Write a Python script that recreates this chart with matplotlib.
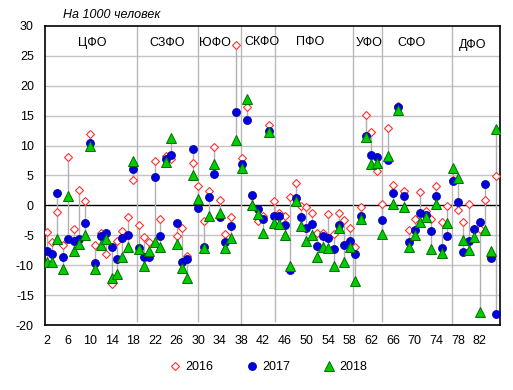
import matplotlib

matplotlib.use("Agg")
import matplotlib.pyplot as plt
import numpy as np

plt.rcParams['font.family'] = ['Liberation Sans', 'DejaVu Sans']
plt.rcParams['axes.unicode_minus'] = False

# region number on the x axis
regions = list(range(2, 86))

# values per 1000 people
y2016 = [-4.5, -6.2, -1.1, -6.6, 8.1, -4.0, 2.6, 0.8, 12.0, -6.6,
         -4.6, -8.1, -13.2, -6.0, -4.2, -1.9, 4.3, -3.2, -5.3, -6.2,
         7.5, -2.3, 8.2, 7.8, -5.1, -3.7, -8.4, 7.1, 3.3, -2.6,
         2.4, 9.8, 0.9, -4.7, -1.9, 26.8, 7.9, 16.4, 1.6, -2.6,
         -1.8, 13.4, 0.8, -1.2, -1.7, 1.4, 3.7, -0.1, -0.3, -1.2,
         -4.6, -4.6, -1.5, -4.8, -1.2, -2.4, -3.8, -6.9, -0.3, 15.2,
         12.2, 5.7, 0.3, 13.0, 3.4, 16.7, 2.4, -4.1, -2.3, 2.2,
         -0.9, -2.3, 3.3, -2.7, -0.1, 4.3, -0.8, -2.8, 0.3, -3.9,
         -3.9, 0.9, -8.6, 4.9]
y2017 = [-7.6, -8.1, 2.1, -8.6, -5.6, -5.9, -5.7, -2.9, 10.5, -9.6,
         -5.2, -4.6, -7.0, -9.0, -5.5, -4.9, 6.1, -7.2, -8.7, -8.6,
         4.8, -5.1, 7.7, 8.4, -3.0, -9.5, -9.0, 9.5, -0.5, -7.0,
         1.4, 5.2, -1.9, -6.2, -3.4, 15.7, 7.0, 14.2, 1.8, -0.6,
         -2.3, 12.4, -1.8, -1.8, -3.3, -10.8, 1.3, -1.9, -3.8, -3.1,
         -6.8, -5.1, -5.5, -7.3, -3.3, -6.6, -5.9, -8.1, -1.7, 11.6,
         8.5, 8.1, -2.4, 7.6, 2.0, 16.4, 1.6, -6.1, -4.1, -1.3,
         -1.6, -4.3, 1.6, -7.2, -5.2, 4.1, 0.5, -7.8, -6.0, -3.9,
         -2.8, 3.5, -8.8, -18.1]
y2018 = [-9.4, -9.4, -5.6, -10.6, 1.6, -7.7, -6.5, -4.9, 10.0, -10.6,
         -6.6, -5.6, -12.1, -11.5, -8.7, -6.9, 7.4, -7.3, -10.2, -7.6,
         -6.2, -6.9, 7.3, 11.2, -6.5, -10.5, -12.2, 5.0, 1.1, -7.2,
         -1.7, 7.0, -1.2, -7.2, -5.5, 11.0, 6.3, 17.8, 0.1, -1.4,
         -4.6, 12.2, -3.0, -3.1, -5.0, -10.2, 0.8, -3.4, -5.9, -4.9,
         -8.6, -6.9, -7.1, -10.2, -3.8, -9.5, -6.9, -12.6, -2.3, 11.4,
         6.9, 7.1, -4.8, 8.2, 0.3, 15.9, -0.3, -7.0, -5.0, -2.7,
         -1.9, -7.3, 0.2, -8.0, -3.0, 6.3, 4.5, -5.8, -7.4, -5.3,
         -17.8, -4.1, -7.6, 12.7]

districts = ["ЦФО", "СЗФО", "ЮФО", "СКФО", "ПФО", "УФО", "СФО", "ДФО"]
district_x = [10.5, 24.2, 33.1, 41.8, 50.6, 61.5, 69.4, 80.7]
district_y = [27.1, 27.1, 27.1, 27.4, 27.4, 27.1, 27.1, 26.8]
borders = [18.75, 29.9, 37.95, 44.25, 58.65, 64.0, 76.8]
border_low = [-19.5, -19.5, -20, -19.5, -19.5, -19.5, -20]

fig = plt.figure(figsize=(5.13, 3.9), dpi=100)
ax = fig.add_axes([45 / 513, 65 / 390, 455 / 513, 299 / 390])

ax.set_xlim(1.7, 85.75)
ax.set_ylim(-20, 30)

for v in range(-15, 30, 5):
    if v != 0:
        ax.axhline(v, color="#c4c4c4", linewidth=1, zorder=0)
ax.axhline(0, color="black", linewidth=1, zorder=1)

for bx, by in zip(borders, border_low):
    ax.vlines(bx, by, 30, color="#b8b8b8", linewidth=1, zorder=1)

lo = np.minimum(np.minimum(y2016, y2017), y2018)
hi = np.maximum(np.maximum(y2016, y2017), y2018)
ax.vlines(regions, lo, hi, color="#b0b0b0", linewidth=1, zorder=2)

ax.plot(regions, y2016, linestyle="none", marker="D", markersize=4.0,
        markerfacecolor="white", markeredgecolor="#ff3030", markeredgewidth=0.8,
        label="2016", zorder=3)
ax.plot(regions, y2017, linestyle="none", marker="o", markersize=5.8,
        markerfacecolor="#0000dd", markeredgecolor="#000099", markeredgewidth=0.5,
        label="2017", zorder=4)
ax.plot(regions, y2018, linestyle="none", marker="^", markersize=6.8,
        markerfacecolor="#00cc00", markeredgecolor="#007000", markeredgewidth=0.7,
        label="2018", zorder=5)

for name, dx, dy in zip(districts, district_x, district_y):
    ax.text(dx, dy, name, ha="center", va="center", fontsize=9, zorder=6)

ax.set_xticks(range(2, 86, 4))
ax.set_yticks(range(-20, 31, 5))
ax.tick_params(axis="both", length=0, labelsize=9)
ax.tick_params(axis="x", pad=7)
ax.tick_params(axis="y", pad=8)
for s in ax.spines.values():
    s.set_color("black")
    s.set_linewidth(1.2)

fig.text(63 / 513, 1 - 15 / 390, "На 1000 человек", fontsize=9, style="italic",
         ha="left", va="center")

fig.legend(loc="center", bbox_to_anchor=(268 / 513, 1 - 367 / 390), ncol=3,
           frameon=False, fontsize=9, handlelength=1.0, handletextpad=0.3,
           columnspacing=2.6)

fig.savefig("out.png", dpi=100)
